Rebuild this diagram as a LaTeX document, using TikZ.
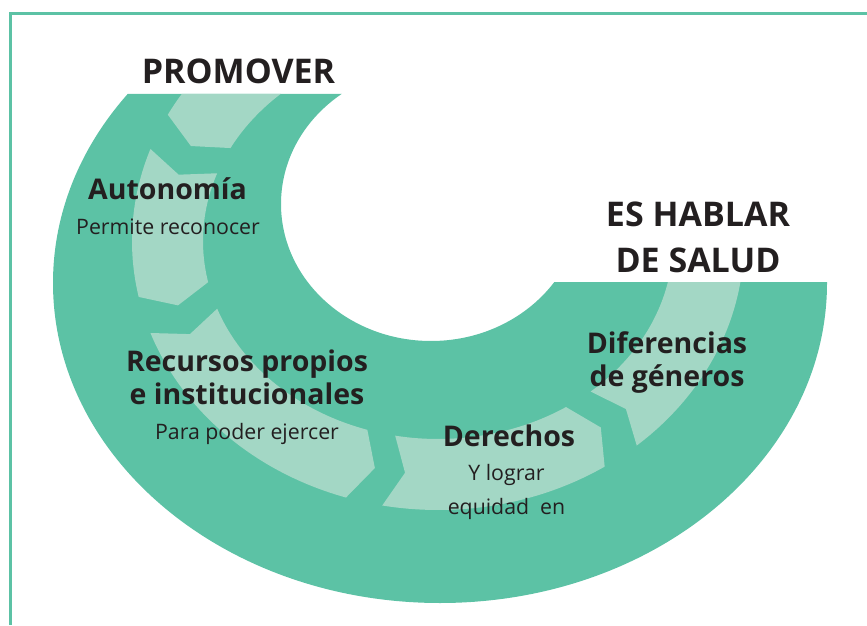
\documentclass[tikz,border=0pt]{standalone}
\usepackage{fontspec}
\setmainfont{Open Sans}
\usepackage{tikz}
\usetikzlibrary{calc, positioning}
\definecolor{ringgreen}{HTML}{5CC2A5}
\definecolor{bandgreen}{HTML}{A3D7C5}
\definecolor{textdark}{HTML}{231F20}
\tikzset{
  titletxt/.style={font=\fontsize{34}{46}\selectfont\bfseries, text=textdark, align=center, inner sep=0pt},
  headtxt/.style={font=\fontsize{28.5}{33}\selectfont\bfseries, text=textdark, align=center, inner sep=0pt},
  subtxt/.style={font=\fontsize{21.3}{34}\selectfont, text=textdark, align=center, inner sep=0pt},
}

\begin{document}
\begin{tikzpicture}[x=1pt, y=1pt]
\useasboundingbox (0,0) rectangle (867,625);

% Frame
\draw[ringgreen, line width=2.6pt] (10.5,0) -- (10.5,611.5) -- (867,611.5);

% Ring and chevron band
\coordinate (oc) at (440,342);
\coordinate (ic) at (431,421);
\coordinate (bc) at (438,384);
\begin{scope}
  \clip (0,0) -- (0,531) -- (440,531) -- (440,343) -- (867,343) -- (867,0) -- cycle;
  \fill[ringgreen, even odd rule] (oc) ellipse[x radius=387pt, y radius=320pt]
    (ic) ellipse[x radius=150pt, y radius=137pt];
  \foreach \s/\e in {125/152, 160/192, 200/252.5, 259.5/303, 310.5/370}
    \fill[bandgreen] ($(bc)+({306*cos(\s)},{269*sin(\s)})$)
      arc[start angle=\s, end angle=\e, x radius=306pt, y radius=269pt]
      -- ($(bc)+({270.5*cos(\e+4)},{233.5*sin(\e+4)})$)
      -- ($(bc)+({235*cos(\e)},{198*sin(\e)})$)
      arc[start angle=\e, end angle=\s, x radius=235pt, y radius=198pt]
      -- ($(bc)+({270.5*cos(\s+3.5)},{233.5*sin(\s+3.5)})$) -- cycle;
\end{scope}

% Titles
\node[titletxt, anchor=base] (promover) at (238.5,541.7) {PROMOVER};
\node[titletxt, anchor=base] (hablar) at (698,353) {ES HABLAR\\DE SALUD};

% Labels along the ring
\node[headtxt, anchor=base] (autonomia) at (167.5,425) {Autonomía};
\node[subtxt, anchor=base] (autonomiasub) at (168,391) {Permite reconocer};
\node[headtxt, anchor=base] (recursos) at (247,221) {Recursos propios\\e institucionales};
\node[subtxt, anchor=base] (recursossub) at (247,186) {Para poder ejercer};
\node[headtxt, anchor=base] (diferencias) at (667,239) {Diferencias\\de géneros};
\node[headtxt, anchor=base] (derechos) at (509,179) {Derechos};
\node[subtxt, anchor=base] (derechossub) at (506.5,111) {Y lograr\\equidad\ \ en};

\end{tikzpicture}
\end{document}
